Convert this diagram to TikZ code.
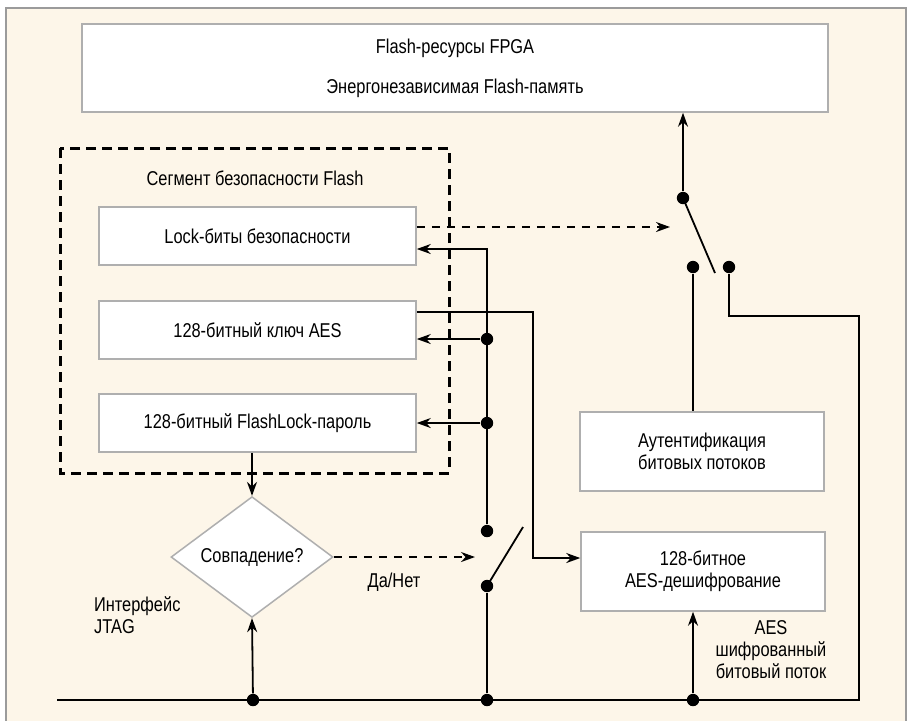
\documentclass[tikz,border=0pt]{standalone}
\usepackage{fontspec}
\setmainfont{Liberation Sans}[FakeStretch=0.82]
\usetikzlibrary{arrows.meta,shapes.geometric}
\definecolor{cream}{RGB}{253,246,233}
\definecolor{boxgray}{RGB}{175,175,175}
\definecolor{framegray}{RGB}{155,155,155}

\begin{document}
\begin{tikzpicture}[x=0.5pt,y=-0.5pt,
    font=\fontsize{10}{11}\selectfont,
    block/.style ={rectangle, draw=boxgray, fill=white, line width=0.75pt, inner sep=0pt, minimum width=158.5pt, minimum height=29pt},
    unit/.style ={block, align=center, minimum width=122pt, minimum height=39.5pt},
    decision/.style ={diamond, draw=boxgray, fill=white, line width=0.75pt, inner sep=0pt, minimum width=81pt, minimum height=55pt},
    dot/.style ={circle, fill=black, inner sep=0pt, minimum size=6.2pt},
    wire/.style ={line width=0.9pt},
    signal/.style ={wire, -{Stealth[length=7pt,width=5pt]}},
    control/.style ={line width=0.8pt, dash pattern=on 4pt off 3.5pt, -{Stealth[length=7pt,width=5pt]}},
    segment/.style ={line width=1.5pt, dash pattern=on 5pt off 3pt}]
   \useasboundingbox (0,0) rectangle (913,720);
   \clip (0,0) rectangle (913,720);
   \fill[white] (0,0) rectangle (913,720);
   \filldraw[fill=cream, draw=framegray, line width=1.3pt] (6,8) rectangle (906,740);
   % blocks
   \node[block, minimum width=373pt, minimum height=44pt, align=center] (fpga) at (455,68)
      {Flash-ресурсы FPGA\\[9pt]Энергонезависимая Flash-память};
   \draw[segment] (60,148) rectangle (449,473);
   \node (seglabel) at (255,178) {Сегмент безопасности Flash};
   \node[block] (lock) at (257.5,236) {Lock-биты безопасности};
   \node[block] (key)  at (257.5,330) {128-битный ключ AES};
   \node[block] (pass) at (257.5,423) {128-битный FlashLock-пароль};
   \node[decision] (match) at (252,557) {Совпадение?};
   \node[unit] (auth) at (702,451.5) {Аутентификация\\битовых потоков};
   \node[unit] (aes)  at (703,571.5) {128-битное\\AES-дешифрование};
   \node (yesno) at (394,582) {Да/Нет};
   \node[align=left, anchor=west] (jtag) at (87,615) {Интерфейс\\JTAG};
   \node[align=center] (stream) at (771,650) {AES\\шифрованный\\битовый поток};
   % bus
   \coordinate (busL) at (57,700);
   \coordinate (busR) at (859,700);
   \coordinate (turn) at (859,316);
   \node[dot] (b1) at (253,700) {};
   \node[dot] (b2) at (487,700) {};
   \node[dot] (b3) at (693,700) {};
   % switches
   \node[dot] (s1top)   at (683,198) {};
   \node[dot] (s1left)  at (693,267) {};
   \node[dot] (s1right) at (729,267) {};
   \coordinate (s1blade) at (715,273);
   \node[dot] (s2top) at (487,531) {};
   \node[dot] (s2low) at (487,586) {};
   \coordinate (s2blade) at (523,527);
   \node[dot] (d1) at (487,339) {};
   \node[dot] (d2) at (487,423) {};
   \coordinate (v1) at (487,249);
   \coordinate (k1) at (533,312);
   \coordinate (k2) at (533,558);
   \coordinate (ctrl1) at (670,227);
   \coordinate (ctrl2) at (475,557);
   % connectors
   \draw[wire] (busL) -- (busR) -- (turn) -| (s1right);
   \draw[wire] (s1top.center) -- (s1blade);
   \draw[signal] (s1top) -- (s1top |- fpga.south);
   \draw[wire] (s1left) -- (s1left |- auth.north);
   \draw[signal] (b1) -- (match.south);
   \draw[signal] (b3) -- (b3 |- aes.south);
   \draw[wire] (b2) -- (s2low);
   \draw[wire] (s2low.center) -- (s2blade);
   \draw[signal] (s2top) -- (v1) -- (lock.east |- v1);
   \draw[signal] (d1) -- (key.east |- d1);
   \draw[signal] (d2) -- (pass.east |- d2);
   \draw[signal] (key.east |- k1) -- (k1) -- (k2) -- (aes.west |- k2);
   \draw[signal] (pass.south -| match.north) -- (match.north);
   \draw[control] (lock.east |- ctrl1) -- (ctrl1);
   \draw[control] (match.east) -- (ctrl2);
\end{tikzpicture}
\end{document}
